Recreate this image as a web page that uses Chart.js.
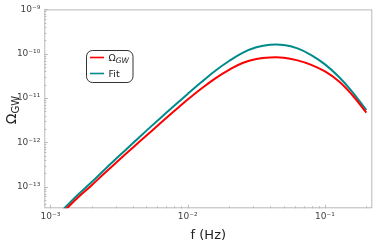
<!DOCTYPE html>
<html lang="en">
<head>
    <meta charset="UTF-8">
    <title>Omega GW</title>
    <script src="https://cdn.jsdelivr.net/npm/chart.js"></script>
    <style>
        body { margin: 0; background: #fff; }
        .wrap { width: 374px; height: 243px; position: relative; }
    </style>
</head>
<body>

<div class="wrap">
    <canvas id="gwChart"></canvas>
</div>

<script>
// frequencies (Hz), log-spaced
const freq = [1.00e-3, 1.26e-3, 1.58e-3, 2.00e-3, 2.51e-3, 3.16e-3, 3.98e-3, 5.01e-3,
              6.31e-3, 7.94e-3, 1.00e-2, 1.26e-2, 1.58e-2, 2.00e-2, 2.51e-2, 3.16e-2,
              3.98e-2, 5.01e-2, 6.31e-2, 7.94e-2, 1.00e-1, 1.26e-1, 1.58e-1, 2.00e-1];

// Omega_GW (red)
const omegaGW = [1.45e-14, 2.85e-14, 5.62e-14, 1.08e-13, 2.09e-13, 3.98e-13, 7.59e-13, 1.43e-12,
                 2.69e-12, 5.01e-12, 9.23e-12, 1.64e-11, 2.75e-11, 4.32e-11, 6.17e-11, 7.59e-11,
                 8.22e-11, 8.13e-11, 7.08e-11, 5.62e-11, 3.98e-11, 2.40e-11, 1.17e-11, 4.68e-12];

// Fit (teal)
const omegaFit = [1.62e-14, 3.24e-14, 6.46e-14, 1.27e-13, 2.51e-13, 4.90e-13, 9.55e-13, 1.84e-12,
                  3.51e-12, 6.61e-12, 1.24e-11, 2.29e-11, 4.07e-11, 6.84e-11, 1.05e-10, 1.40e-10,
                  1.60e-10, 1.58e-10, 1.32e-10, 9.33e-11, 5.75e-11, 3.02e-11, 1.38e-11, 5.37e-12];

const xTicks = [1e-3, 1e-2, 1e-1];
const yTicks = [1e-13, 1e-12, 1e-11, 1e-10, 1e-9];

const RED = '#ff0000';
const TEAL = '#008b8b';
const FONT = '"DejaVu Sans", sans-serif';

const sup = {'-': '⁻', '0': '⁰', '1': '¹', '2': '²', '3': '³', '4': '⁴', '5': '⁵', '6': '⁶', '7': '⁷', '8': '⁸', '9': '⁹'};
function powLabel(v) {
    const e = String(Math.round(Math.log10(v)));
    return '10' + e.split('').map(ch => sup[ch]).join('');
}

// frame, inside ticks (major + minor)
const frame = {
    id: 'frame',
    beforeDatasetsDraw(chart) {
        const c = chart.ctx;
        const a = chart.chartArea;
        const xs = chart.scales.x, ys = chart.scales.y;
        c.save();
        c.strokeStyle = '#b8b8b8';
        c.lineWidth = 1;
        c.strokeRect(a.left + 0.5, a.top + 0.5, a.right - a.left - 1, a.bottom - a.top - 1);
        c.beginPath();
        for (let e = -4; e <= 0; e++) {
            for (let m = 1; m <= 9; m++) {
                const v = m * Math.pow(10, e);
                if (v < xs.min || v > xs.max) continue;
                const px = Math.round(xs.getPixelForValue(v)) + 0.5;
                const len = m === 1 ? 3.5 : 2;
                c.moveTo(px, a.bottom);
                c.lineTo(px, a.bottom - len);
            }
        }
        for (let e = -14; e <= -9; e++) {
            for (let m = 1; m <= 9; m++) {
                const v = m * Math.pow(10, e);
                if (v < ys.min || v > ys.max) continue;
                const py = Math.round(ys.getPixelForValue(v)) + 0.5;
                const len = m === 1 ? 3.5 : 2;
                c.moveTo(a.left, py);
                c.lineTo(a.left + len, py);
            }
        }
        c.stroke();
        c.restore();
    }
};

// y title with subscript + legend box
const extras = {
    id: 'extras',
    afterDraw(chart) {
        const c = chart.ctx;
        c.save();
        c.fillStyle = '#222';
        c.translate(11, 110);
        c.rotate(-Math.PI / 2);
        c.font = '14px ' + FONT;
        const w1 = c.measureText('Ω').width;
        c.font = '10px ' + FONT;
        const w2 = c.measureText('GW').width;
        const x0 = -(w1 + w2) / 2;
        c.font = '14px ' + FONT;
        c.fillText('Ω', x0, 5);
        c.font = '10px ' + FONT;
        c.fillText('GW', x0 + w1, 8);
        c.restore();

        // legend
        c.save();
        c.fillStyle = '#fff';
        c.strokeStyle = '#333';
        c.lineWidth = 1;
        c.beginPath();
        c.roundRect(86.5, 50.5, 46.5, 32, 6);
        c.fill();
        c.stroke();
        const items = [
            {color: RED, y: 57.5, main: 'Ω', sub: 'GW'},
            {color: TEAL, y: 73.5, main: 'Fit', sub: ''}
        ];
        items.forEach(it => {
            c.strokeStyle = it.color;
            c.lineWidth = 1.6;
            c.beginPath();
            c.moveTo(90, it.y);
            c.lineTo(104, it.y);
            c.stroke();
            c.fillStyle = '#222';
            c.textBaseline = 'alphabetic';
            c.font = '9.5px ' + FONT;
            c.fillText(it.main, 108.5, it.y + 3.5);
            if (it.sub) {
                const w = c.measureText(it.main).width;
                c.font = 'italic 7.5px ' + FONT;
                c.fillText(it.sub, 108.5 + w, it.y + 5.5);
            }
        });
        c.restore();
    }
};

new Chart(document.getElementById('gwChart'), {
    type: 'line',
    data: {
        datasets: [{
            label: 'ΩGW',
            data: freq.map((f, i) => ({x: f, y: omegaGW[i]})),
            borderColor: RED,
            borderWidth: 2,
            pointRadius: 0,
            tension: 0.4,
            fill: false
        }, {
            label: 'Fit',
            data: freq.map((f, i) => ({x: f, y: omegaFit[i]})),
            borderColor: TEAL,
            borderWidth: 2,
            pointRadius: 0,
            tension: 0.4,
            fill: false
        }]
    },
    options: {
        responsive: true,
        maintainAspectRatio: false,
        animation: false,
        layout: { padding: { top: 5, right: 1.7, left: 0, bottom: 0 } },
        plugins: { legend: { display: false }, tooltip: { enabled: false } },
        scales: {
            x: {
                type: 'logarithmic',
                min: 9.03e-4,
                max: 0.221,
                afterBuildTicks: s => { s.ticks = xTicks.map(v => ({value: v})); },
                afterFit: s => { s.height = 34.7; },
                grid: { display: false, drawTicks: false },
                border: { display: false },
                ticks: {
                    autoSkip: false,
                    maxRotation: 0,
                    padding: 3,
                    color: '#444',
                    font: { family: FONT, size: 9 },
                    callback: v => powLabel(v)
                },
                title: {
                    display: true,
                    text: 'f (Hz)',
                    color: '#222',
                    font: { family: FONT, size: 13 },
                    padding: { top: 0, bottom: 0 }
                }
            },
            y: {
                type: 'logarithmic',
                min: 3.25e-14,
                max: 1e-9,
                afterBuildTicks: s => { s.ticks = yTicks.map(v => ({value: v})); },
                afterFit: s => { s.width = 44.3; },
                grid: { display: false, drawTicks: false },
                border: { display: false },
                ticks: {
                    autoSkip: false,
                    padding: 4,
                    color: '#444',
                    font: { family: FONT, size: 9 },
                    callback: v => powLabel(v)
                }
            }
        }
    },
    plugins: [frame, extras]
});
</script>

</body>
</html>
